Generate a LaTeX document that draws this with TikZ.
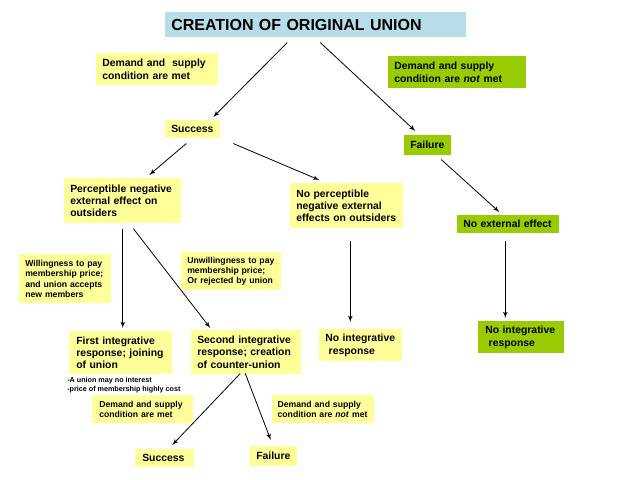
\documentclass[tikz,border=0pt]{standalone}
\usepackage{fontspec}
\setmainfont{Liberation Sans}
\usepackage{tikz}
\usetikzlibrary{arrows,calc,positioning}
\definecolor{paleyellow}{HTML}{FFFF99}
\definecolor{leafgreen}{HTML}{99CC00}
\definecolor{titleblue}{HTML}{B7DEE8}
\begin{document}
\begin{tikzpicture}[x=0.75pt,y=-0.75pt,>=latex',
  ybox/.style={fill=paleyellow,anchor=north west,align=left,inner xsep=4.5pt,inner ysep=0pt,font=\bfseries\fontsize{7.8}{9.2}\selectfont},
  gbox/.style={ybox,fill=leafgreen},
  small/.style={font=\bfseries\fontsize{6.5}{7.7}\selectfont},
  arr/.style={->,line width=0.6pt}]
  \useasboundingbox (0,0) rectangle (638,479);
  % boxes
  \node [ybox,fill=titleblue,text width=216.75pt,minimum height=18.75pt,font=\bfseries\fontsize{12}{14}\selectfont] (title) at (165,12) {CREATION OF ORIGINAL UNION};
  \node [ybox,text width=82.5pt,minimum height=24pt] (met) at (96,53) {Demand and\ \ supply\\condition are met};
  \node [gbox,text width=94.5pt,minimum height=24pt] (notmet) at (388,56) {Demand and supply\\condition are \textit{not} met};
  \node [ybox,text width=32.25pt,minimum height=13.5pt] (success) at (165,120) {Success};
  \node [gbox,text width=26.25pt,minimum height=15pt] (failure) at (404,135) {Failure};
  \node [ybox,text width=78.75pt,minimum height=33.75pt] (percep) at (64,178) {Perceptible negative\\external effect on\\outsiders};
  \node [ybox,text width=75.75pt,minimum height=33.75pt] (noperc) at (290,183) {No perceptible\\negative external\\effects on outsiders};
  \node [gbox,text width=67.5pt,minimum height=13.5pt] (noext) at (457,215) {No external effect};
  \node [ybox,small,text width=60pt,minimum height=36.75pt] (willing) at (19,254) {Willingness to pay\\membership price;\\and union accepts\\new members};
  \node [ybox,small,text width=66pt,minimum height=28.5pt] (unwilling) at (181,252) {Unwillingness to pay\\membership price;\\Or rejected by union};
  \node [ybox,text width=66.75pt,minimum height=32.25pt,inner xsep=5.25pt] (first) at (69,331) {First integrative\\response; joining\\of union};
  \node [ybox,text width=73.5pt,minimum height=33pt] (second) at (191,330) {Second integrative\\response; creation\\of counter-union};
  \node [ybox,text width=53.25pt,minimum height=24pt] (noint) at (319,329) {No integrative\\\ response};
  \node [gbox,text width=54pt,minimum height=24pt,inner xsep=5.25pt] (nointg) at (478,321) {No integrative\\\ response};
  \node [anchor=north west,align=left,inner sep=0pt,font=\bfseries\fontsize{5.4}{6.5}\selectfont] (note) at (67,377) {-A union may no interest\\-price of membership highly cost};
  \node [ybox,small,text width=65.25pt,minimum height=21pt,inner xsep=5.25pt] (metb) at (92,395) {Demand and supply\\condition are met};
  \node [ybox,small,text width=68pt,minimum height=21pt,inner xsep=4pt] (notmetb) at (272,395) {Demand and supply\\condition are \textit{not} met};
  \node [ybox,text width=33.75pt,minimum height=13.5pt,inner xsep=5.25pt] (successb) at (135,449) {Success};
  \node [ybox,text width=26.25pt,minimum height=15pt] (failureb) at (250,446) {Failure};
  % arrows
  \draw [arr] ($(title.south)+(-28.5,5)$) -- ($(success.north)+(20.5,-3)$);
  \draw [arr] ($(title.south)+(4.5,5)$) -- ($(failure.north)+(-12.5,-4)$);
  \draw [arr] ($(success.south)+(-6.5,5)$) -- ($(percep.north)+(26.5,-3)$);
  \draw [arr] ($(success.south)+(40.5,5)$) -- ($(noperc.north)+(-27.5,-3)$);
  \draw [arr] ($(failure.south)+(13.5,4)$) -- ($(noext.north)+(-9,-3)$);
  \draw [arr] ($(percep.south)+(0,5)$) -- ($(percep.south |- first.north)+(0,-3)$);
  \draw [arr] ($(percep.south)+(10.5,5)$) -- ($(second.north)+(-36,-2)$);
  \draw [arr] ($(noperc.south)+(3.5,12)$) -- ($(noperc.south |- noint.north)+(3.5,-7)$);
  \draw [arr] ($(noext.south)+(-3,7)$) -- ($(noext.south |- nointg.north)+(-3,-3)$);
  \draw [arr] ($(second.south)+(-6,-1)$) -- ($(successb.north)+(7.5,-4)$);
  \draw [arr] ($(second.south)+(-1,-1)$) -- ($(failureb.north)+(-3,-6)$);
\end{tikzpicture}
\end{document}
